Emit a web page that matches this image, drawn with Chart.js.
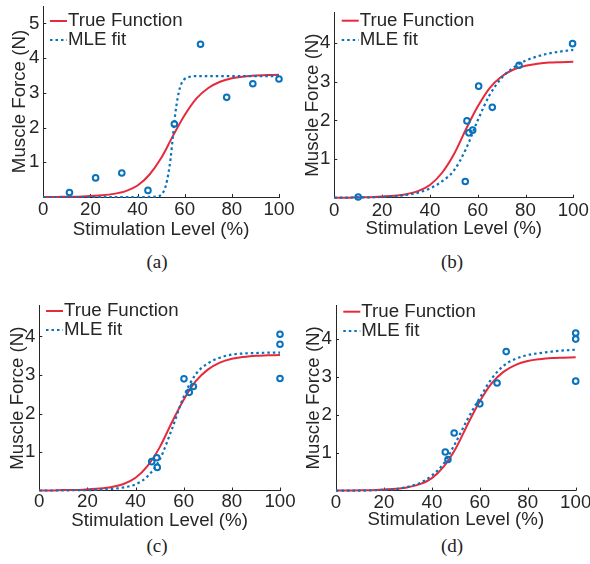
<!DOCTYPE html>
<html>
<head>
<meta charset="utf-8">
<script src="https://cdn.jsdelivr.net/npm/chart.js@4.4.0/dist/chart.umd.min.js"></script>
<style>
  body { margin: 0; background: #fff; width: 590px; height: 564px; position: relative; overflow: hidden; }
  .panel { position: absolute; width: 295px; height: 250px; }
  .cap { position: absolute; font: 19px "Liberation Serif", "Times New Roman", serif; color: #222; transform: translateX(-50%); line-height: 22px; }
</style>
</head>
<body>
<div class="panel" style="left:0;top:0"><canvas id="cA" width="295" height="250"></canvas></div>
<div class="panel" style="left:295px;top:0"><canvas id="cB" width="295" height="250"></canvas></div>
<div class="panel" style="left:0;top:284px"><canvas id="cC" width="295" height="250"></canvas></div>
<div class="panel" style="left:295px;top:284px"><canvas id="cD" width="295" height="250"></canvas></div>
<div class="cap" style="left:157px;top:251px">(a)</div>
<div class="cap" style="left:452px;top:251px">(b)</div>
<div class="cap" style="left:157px;top:535px">(c)</div>
<div class="cap" style="left:452px;top:535px">(d)</div>
<script>
// curves, every 5 %
const curveX = [0, 5, 10, 15, 20, 25, 30, 35, 40, 45, 50, 55, 60, 65, 70, 75, 80, 85, 90, 95, 100];
const trueForce = [0, 0, 0.01, 0.01, 0.03, 0.05, 0.09, 0.17, 0.33, 0.64, 1.12, 1.76, 2.36, 2.84, 3.14, 3.32, 3.42, 3.47, 3.5, 3.51, 3.52];

// (a) MLE fit is almost a step, so it needs denser samples
const mleXA = [0, 20, 40, 48, 50, 51, 52, 53, 54, 55, 56, 57, 58, 59, 60, 62, 65, 70, 80, 90, 100];
const mleForceA = [0, 0, 0, 0.01, 0.06, 0.15, 0.33, 0.65, 1.1, 1.75, 2.4, 2.85, 3.15, 3.32, 3.4, 3.46, 3.48, 3.48, 3.48, 3.48, 3.48];
const mleForceB = [0, 0, 0.01, 0.01, 0.02, 0.04, 0.07, 0.13, 0.24, 0.42, 0.7, 1.25, 2.0, 2.66, 3.1, 3.37, 3.55, 3.66, 3.74, 3.79, 3.83];
const mleForceC = [0, 0, 0, 0.01, 0.01, 0.02, 0.04, 0.08, 0.16, 0.37, 0.8, 1.58, 2.44, 3.02, 3.3, 3.45, 3.53, 3.56, 3.57, 3.58, 3.58];
const mleForceD = [0, 0, 0, 0.01, 0.02, 0.04, 0.1, 0.2, 0.4, 0.72, 1.28, 1.9, 2.45, 2.96, 3.3, 3.48, 3.58, 3.63, 3.67, 3.7, 3.72];

// measured samples
const stimA = [11.1, 22.2, 33.3, 44.4, 55.6, 66.7, 77.8, 88.9, 100];
const forceA = [0.13, 0.55, 0.69, 0.19, 2.1, 4.4, 2.87, 3.26, 3.4];
const stimB = [10, 54.8, 55.5, 56.3, 57.9, 60.4, 66.1, 77.3, 99.7];
const forceB = [0.02, 0.42, 1.99, 1.68, 1.75, 2.89, 2.34, 3.43, 3.99];
const stimC = [46.7, 48.8, 49.0, 60.1, 62.3, 64.0, 100, 100, 100];
const forceC = [0.75, 0.85, 0.6, 2.9, 2.55, 2.7, 4.06, 3.8, 2.91];
const stimD = [45.6, 46.7, 49.3, 60.0, 67.2, 71.0, 100, 100, 100];
const forceD = [1.02, 0.82, 1.52, 2.29, 2.84, 3.67, 4.16, 4.0, 2.89];

const xTicks = [0, 20, 40, 60, 80, 100];
const yTicksA = [1, 2, 3, 4, 5];
const yTicks = [1, 2, 3, 4];

const RED = '#e62a3c';
const BLUE = '#0a72bd';
const INK = '#262626';
const FAMILY = '"Liberation Sans", Arial, Helvetica, sans-serif';
const FSIZE = 18.7;

const toXY = (xs, ys) => xs.map((x, i) => ({ x: x, y: ys[i] }));

// MATLAB style ticks, pointing into the axes
const tickMarks = {
  id: 'tickMarks',
  beforeDatasetsDraw(chart) {
    const { ctx, chartArea, scales } = chart;
    ctx.save();
    ctx.strokeStyle = INK;
    ctx.lineWidth = 1;
    ctx.beginPath();
    scales.x.ticks.forEach(t => {
      const px = Math.round(scales.x.getPixelForValue(t.value)) + 0.5;
      ctx.moveTo(px, chartArea.bottom);
      ctx.lineTo(px, chartArea.bottom - 3);
    });
    scales.y.ticks.forEach(t => {
      const py = Math.round(scales.y.getPixelForValue(t.value)) + 0.5;
      ctx.moveTo(chartArea.left, py);
      ctx.lineTo(chartArea.left + 3, py);
    });
    ctx.stroke();
    ctx.restore();
  }
};

// small legend without box, like "legend boxoff"
const miniLegend = {
  id: 'miniLegend',
  afterDatasetsDraw(chart, args, opts) {
    const ctx = chart.ctx;
    ctx.save();
    ctx.font = FSIZE + 'px ' + FAMILY;
    ctx.textBaseline = 'middle';
    chart.data.datasets.filter(d => d.label).forEach((d, i) => {
      const y = opts.y + i * opts.dy;
      ctx.strokeStyle = d.borderColor;
      ctx.lineWidth = d.borderWidth;
      ctx.setLineDash(d.borderDash || []);
      ctx.beginPath();
      ctx.moveTo(opts.x, y);
      ctx.lineTo(opts.x + 17, y);
      ctx.stroke();
      ctx.setLineDash([]);
      ctx.fillStyle = INK;
      ctx.fillText(d.label, opts.x + 18, y);
    });
    ctx.restore();
  }
};

function makeChart(id, p) {
  const font = { family: FAMILY, size: FSIZE };
  return new Chart(document.getElementById(id), {
    type: 'line',
    data: {
      datasets: [
        { label: 'True Function', data: toXY(curveX, trueForce), borderColor: RED, borderWidth: 2,
          pointRadius: 0, cubicInterpolationMode: 'monotone', clip: false, order: 3 },
        { label: 'MLE fit', data: toXY(p.mleX, p.mle), borderColor: BLUE, borderWidth: 2.2, borderDash: [2.5, 3],
          pointRadius: 0, cubicInterpolationMode: 'monotone', clip: false, order: 2 },
        { data: toXY(p.stim, p.force), showLine: false, pointRadius: 2.8, pointBorderWidth: 2,
          pointBorderColor: BLUE, pointBackgroundColor: 'rgba(0,0,0,0)', borderColor: BLUE, clip: false, order: 1 }
      ]
    },
    options: {
      responsive: false,
      animation: false,
      events: [],
      layout: { padding: { left: 0, right: p.padRight, top: p.padTop, bottom: 0 } },
      scales: {
        x: {
          type: 'linear', min: 0, max: 100,
          afterBuildTicks: s => { s.ticks = xTicks.map(v => ({ value: v })); },
          afterFit: s => { s.height = p.xHeight; s.paddingLeft = 0; s.paddingRight = 0; },
          grid: { display: false, drawTicks: false },
          border: { color: INK, width: 1 },
          ticks: { color: INK, font: { family: FAMILY, size: FSIZE, lineHeight: 1 }, padding: p.xTickPad, maxRotation: 0, autoSkip: false },
          title: { display: true, text: 'Stimulation Level (%)', color: INK, font: font, padding: { top: 0, bottom: p.xTitlePad } }
        },
        y: {
          type: 'linear', min: 0, max: p.yMax,
          afterBuildTicks: s => { s.ticks = p.yTicks.map(v => ({ value: v })); },
          afterFit: s => { s.width = p.yWidth; s.paddingTop = 0; s.paddingBottom = 0; },
          grid: { display: false, drawTicks: false },
          border: { color: INK, width: 1 },
          ticks: { color: INK, font: { family: FAMILY, size: FSIZE, lineHeight: 1 }, padding: 4 },
          title: { display: true, text: 'Muscle Force (N)', color: INK, font: font, padding: { top: p.yTitlePad, bottom: 0 } }
        }
      },
      plugins: {
        legend: { display: false },
        tooltip: { enabled: false },
        miniLegend: p.legend
      }
    },
    plugins: [tickMarks, miniLegend]
  });
}

makeChart('cA', { mleX: mleXA, mle: mleForceA, stim: stimA, force: forceA, yTicks: yTicksA, yMax: 5.5,
  padTop: 5, padRight: 16, xHeight: 53, yWidth: 43.3, xTickPad: 3.7, xTitlePad: 8.8, yTitlePad: 8.8,
  legend: { x: 50, y: 21, dy: 19 } });
makeChart('cB', { mleX: curveX, mle: mleForceB, stim: stimB, force: forceB, yTicks: yTicks, yMax: 4.8,
  padTop: 12.4, padRight: 16.7, xHeight: 52.3, yWidth: 39.3, xTickPad: 3.7, xTitlePad: 9.8, yTitlePad: 7.1,
  legend: { x: 46.7, y: 20.7, dy: 19.3 } });
makeChart('cC', { mleX: curveX, mle: mleForceC, stim: stimC, force: forceC, yTicks: yTicks, yMax: 4.8,
  padTop: 21.7, padRight: 15, xHeight: 43.5, yWidth: 39.3, xTickPad: 2.1, xTitlePad: 1.8, yTitlePad: 7.1,
  legend: { x: 46, y: 27, dy: 19 } });
makeChart('cD', { mleX: curveX, mle: mleForceD, stim: stimD, force: forceD, yTicks: yTicks, yMax: 4.9,
  padTop: 21, padRight: 14.3, xHeight: 43.4, yWidth: 41, xTickPad: 3.3, xTitlePad: 2.8, yTitlePad: 8.1,
  legend: { x: 48.3, y: 27.7, dy: 19.3 } });
</script>
</body>
</html>
